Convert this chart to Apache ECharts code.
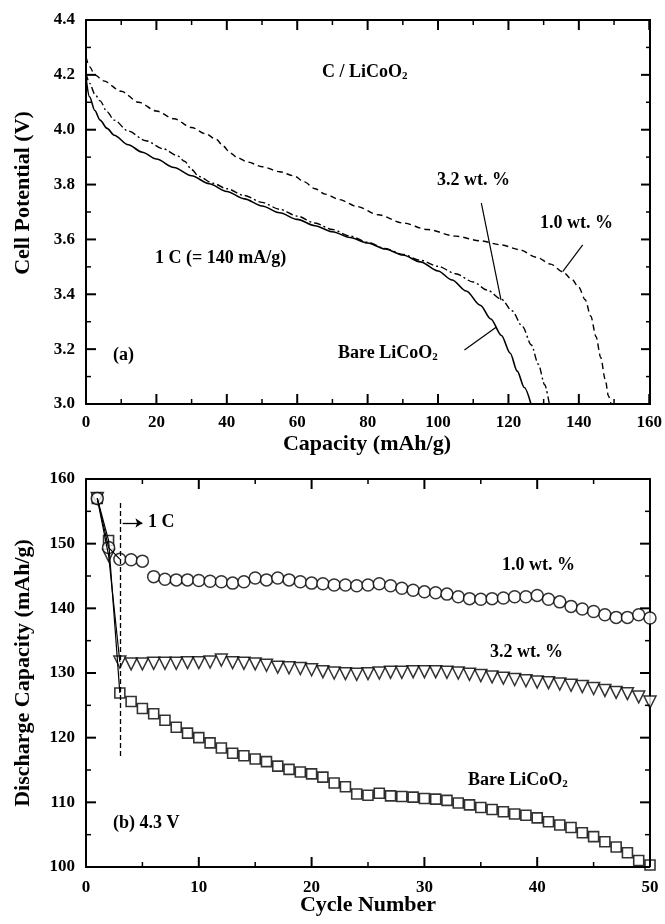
<!DOCTYPE html>
<html>
<head>
<meta charset="utf-8">
<script src="https://cdn.jsdelivr.net/npm/echarts@6/dist/echarts.min.js"></script>
<style>
  html, body { margin: 0; padding: 0; background: #fff; }
  #chart { width: 665px; height: 924px; }
</style>
</head>
<body>
<div id="chart"></div>
<script>
// (a) discharge curves, capacity (mAh/g) vs potential (V)
const bareCap = [0, 1, 2.5, 4, 6, 8, 12, 16, 20, 25, 30, 35, 40, 45, 50, 55, 60, 65, 70, 75, 80, 85, 90, 95, 100, 104, 108, 112, 115, 118, 120.5, 122.5, 124.5, 126.4]
const barePot = [4.19, 4.12, 4.07, 4.035, 4.005, 3.98, 3.945, 3.918, 3.893, 3.862, 3.832, 3.803, 3.775, 3.748, 3.722, 3.697, 3.673, 3.65, 3.628, 3.607, 3.587, 3.565, 3.543, 3.518, 3.485, 3.452, 3.412, 3.36, 3.31, 3.25, 3.185, 3.12, 3.06, 3.0]

const w32Cap = [0, 1, 2.5, 4, 6, 8, 12, 17, 22, 26, 28, 30, 32, 36, 40, 45, 50, 55, 60, 65, 70, 75, 80, 85, 90, 95, 100, 105, 110, 114, 118, 121, 124, 126.5, 128.5, 130.3, 131.6]
const w32Pot = [4.205, 4.17, 4.13, 4.105, 4.065, 4.035, 3.995, 3.96, 3.93, 3.905, 3.885, 3.855, 3.83, 3.805, 3.785, 3.76, 3.735, 3.71, 3.685, 3.66, 3.636, 3.612, 3.59, 3.567, 3.545, 3.524, 3.502, 3.475, 3.445, 3.415, 3.382, 3.34, 3.282, 3.215, 3.145, 3.07, 3.0]

const w10Cap = [0, 1, 2.5, 5, 10, 15, 20, 25, 30, 34, 37, 39, 41, 43, 46, 50, 55, 59, 62, 65, 68, 72, 77, 83, 90, 97, 105, 112, 118, 123, 128, 132, 135.4, 138, 140, 141.8, 143.4, 144.9, 146.2, 147.5, 148.4, 149.1]
const w10Pot = [4.265, 4.23, 4.2, 4.178, 4.14, 4.1, 4.068, 4.04, 4.008, 3.985, 3.965, 3.94, 3.915, 3.898, 3.882, 3.865, 3.847, 3.832, 3.81, 3.785, 3.765, 3.745, 3.72, 3.69, 3.66, 3.636, 3.612, 3.595, 3.58, 3.563, 3.535, 3.51, 3.482, 3.455, 3.425, 3.38, 3.32, 3.245, 3.17, 3.09, 3.03, 3.0]

// (b) cycling at 4.3 V
const cycles = [1, 2, 3, 4, 5, 6, 7, 8, 9, 10, 11, 12, 13, 14, 15, 16, 17, 18, 19, 20, 21, 22, 23, 24, 25,
  26, 27, 28, 29, 30, 31, 32, 33, 34, 35, 36, 37, 38, 39, 40, 41, 42, 43, 44, 45, 46, 47, 48, 49, 50]
const cap10 = [157.0, 149.4, 147.6, 147.5, 147.3, 144.9, 144.5, 144.4, 144.4, 144.3, 144.2, 144.1, 143.9, 144.1, 144.7,
  144.4, 144.7, 144.4, 144.1, 143.9, 143.8, 143.6, 143.6, 143.5, 143.6, 143.8, 143.5, 143.1, 142.8, 142.55,
  142.4, 142.2, 141.8, 141.5, 141.4, 141.5, 141.6, 141.8, 141.8, 142.0, 141.4, 141.0, 140.3, 139.9, 139.5,
  139.0, 138.6, 138.6, 139.0, 138.5]
const cap32 = [157.0, 148.2, 131.7, 131.4, 131.4, 131.5, 131.5, 131.5, 131.6, 131.6, 131.7, 132.0, 131.6, 131.5, 131.4,
  131.2, 130.9, 130.8, 130.7, 130.5, 130.2, 130.0, 129.9, 129.8, 129.9, 130.0, 130.1, 130.1, 130.2, 130.2,
  130.2, 130.1, 130.0, 129.8, 129.6, 129.4, 129.2, 129.0, 128.8, 128.6, 128.5, 128.3, 128.1, 127.9, 127.6,
  127.3, 127.0, 126.8, 126.3, 125.5]
const capBare = [157.0, 150.5, 126.9, 125.6, 124.5, 123.7, 122.7, 121.6, 120.7, 120.0, 119.2, 118.4, 117.6, 117.2, 116.7,
  116.3, 115.6, 115.1, 114.7, 114.4, 113.9, 113.0, 112.4, 111.3, 111.1, 111.4, 111.0, 110.9, 110.8, 110.6,
  110.5, 110.3, 109.9, 109.6, 109.2, 108.9, 108.55, 108.2, 108.0, 107.6, 107.0, 106.5, 106.1, 105.3, 104.7,
  103.9, 103.1, 102.2, 101.0, 100.3]

// axis ranges: [min, max, major step]
const capRange = [0, 160, 20]
const potRange = [3.0, 4.4, 0.2]
const cycRange = [0, 50, 10]
const dcapRange = [100, 160, 10]

const FONT = '"Liberation Serif", "Times New Roman", serif'
const GRID_A = { left: 86, top: 20, width: 565, height: 384 }
const GRID_B = { left: 86, top: 479, width: 564, height: 388 }

const pairs = (xs, ys) => xs.map((x, i) => [x, ys[i]])

// native inward ticks don't paint here, the frame ticks are added afterwards from the axis scales
const axisBase = (extra) => Object.assign({
  type: 'value',
  axisLine: { show: true, onZero: false, lineStyle: { color: '#000', width: 2 } },
  axisTick: { show: false },
  splitLine: { show: false },
  axisLabel: { show: false }
}, extra)

const range = (r) => ({ min: r[0], max: r[1], interval: r[2] })

const tickLabel = (margin, fmt) => ({
  show: true, margin: margin, color: '#000', fontFamily: FONT, fontWeight: 'bold', fontSize: 17, formatter: fmt
})

const rich = {
  s: { fontFamily: FONT, fontWeight: 'bold', fontSize: 11, verticalAlign: 'bottom', padding: [8, 0, 0, 0] }
}
const note = (x, y, text) => ({
  type: 'text', x: x, y: y,
  style: { text: text, fill: '#000', font: 'bold 18px ' + FONT, verticalAlign: 'middle', rich: rich }
})
const title = (x, y, text, vertical) => ({
  type: 'text', x: x, y: y, rotation: vertical ? Math.PI / 2 : 0,
  style: { text: text, fill: '#000', font: 'bold 22px ' + FONT, align: 'center', verticalAlign: 'middle' }
})

const lineOpts = { color: '#000', width: 1.2, type: 'solid' }

const notes = [
  title(367, 444, 'Capacity (mAh/g)'),
  title(23, 193, 'Cell Potential (V)', true),
  title(368, 905, 'Cycle Number'),
  title(23, 673, 'Discharge Capacity (mAh/g)', true),
  note(322, 72, 'C / LiCoO{s|2}'),
  note(437, 180, '3.2 wt. %'),
  note(540, 223, '1.0 wt. %'),
  note(155, 258, '1 C (= 140 mA/g)'),
  note(113, 355, '(a)'),
  note(338, 353, 'Bare LiCoO{s|2}'),
  note(148, 522, '1 C'),
  note(502, 565, '1.0 wt. %'),
  note(490, 652, '3.2 wt. %'),
  note(468, 780, 'Bare LiCoO{s|2}'),
  note(113, 823, '(b) 4.3 V')
]

const chart = echarts.init(document.getElementById('chart'))
chart.setOption({
  animation: false,
  backgroundColor: '#fff',
  grid: [GRID_A, GRID_B],
  xAxis: [
    axisBase(Object.assign({ gridIndex: 0, position: 'bottom', axisLabel: tickLabel(10, v => v) }, range(capRange))),
    axisBase(Object.assign({ gridIndex: 0, position: 'top' }, range(capRange))),
    axisBase(Object.assign({ gridIndex: 1, position: 'bottom', axisLabel: tickLabel(12, v => v) }, range(cycRange))),
    axisBase(Object.assign({ gridIndex: 1, position: 'top' }, range(cycRange)))
  ],
  yAxis: [
    axisBase(Object.assign({ gridIndex: 0, position: 'left', axisLabel: tickLabel(11, v => v.toFixed(1)) }, range(potRange))),
    axisBase(Object.assign({ gridIndex: 0, position: 'right' }, range(potRange))),
    axisBase(Object.assign({ gridIndex: 1, position: 'left', axisLabel: tickLabel(11, v => v) }, range(dcapRange))),
    axisBase(Object.assign({ gridIndex: 1, position: 'right' }, range(dcapRange)))
  ],
  series: [
    {
      name: 'Bare LiCoO2', type: 'line', xAxisIndex: 0, yAxisIndex: 0,
      data: pairs(bareCap, barePot), showSymbol: false, smooth: 0.3, smoothMonotone: 'x',
      lineStyle: { color: '#000', width: 1.6 },
      markLine: {
        silent: true, symbol: 'none', label: { show: false }, lineStyle: lineOpts,
        data: [
          [{ coord: [112.3, 3.732] }, { coord: [117.9, 3.379] }],
          [{ coord: [141.1, 3.58] }, { coord: [135.4, 3.483] }],
          [{ coord: [107.5, 3.197] }, { coord: [116.5, 3.28] }]
        ]
      }
    },
    {
      name: '3.2 wt. %', type: 'line', xAxisIndex: 0, yAxisIndex: 0,
      data: pairs(w32Cap, w32Pot), showSymbol: false, smooth: 0.3, smoothMonotone: 'x',
      lineStyle: { color: '#000', width: 1.4, type: [7, 3, 2, 3] }
    },
    {
      name: '1.0 wt. %', type: 'line', xAxisIndex: 0, yAxisIndex: 0,
      data: pairs(w10Cap, w10Pot), showSymbol: false, smooth: 0.3, smoothMonotone: 'x',
      lineStyle: { color: '#000', width: 1.4, type: [6, 4] }
    },
    // (b) connecting lines for the first three cycles
    {
      type: 'line', xAxisIndex: 2, yAxisIndex: 2, showSymbol: false,
      data: pairs(cycles, capBare).slice(0, 3), lineStyle: lineOpts,
      markLine: {
        silent: true, label: { show: false },
        data: [
          [{ coord: [3, 156.3], symbol: 'none', lineStyle: { color: '#000', width: 1.3, type: [5, 3] } },
           { coord: [3, 116.8], symbol: 'none' }],
          [{ coord: [3.25, 153.2], symbol: 'none', lineStyle: { color: '#000', width: 1.3, type: 'solid' } },
           { coord: [5.0, 153.2], symbol: 'arrow', symbolSize: 7 }]
        ]
      }
    },
    { type: 'line', xAxisIndex: 2, yAxisIndex: 2, showSymbol: false,
      data: pairs(cycles, cap32).slice(0, 3), lineStyle: lineOpts },
    { type: 'line', xAxisIndex: 2, yAxisIndex: 2, showSymbol: false,
      data: pairs(cycles, cap10).slice(0, 3), lineStyle: lineOpts },
    {
      name: 'Bare LiCoO2', type: 'scatter', xAxisIndex: 2, yAxisIndex: 2,
      data: pairs(cycles, capBare), symbol: 'rect', symbolSize: 10,
      itemStyle: { color: '#fff', borderColor: '#000', borderWidth: 1.6 }
    },
    {
      name: '3.2 wt. %', type: 'scatter', xAxisIndex: 2, yAxisIndex: 2,
      data: pairs(cycles, cap32), symbol: 'triangle', symbolRotate: 180, symbolSize: 12,
      itemStyle: { color: '#fff', borderColor: '#000', borderWidth: 1.5 }
    },
    {
      name: '1.0 wt. %', type: 'scatter', xAxisIndex: 2, yAxisIndex: 2,
      data: pairs(cycles, cap10), symbol: 'circle', symbolSize: 12,
      itemStyle: { color: '#fff', borderColor: '#000', borderWidth: 1.5 }
    }
  ],
  graphic: notes
})

// inward ticks on all four sides: majors 10px, minors 5px
function tickMarks(gridIndex, g, xr, yr) {
  const out = []
  const seg = (x1, y1, x2, y2, w) => out.push({
    type: 'line', silent: true, z: 100,
    shape: { x1: x1, y1: y1, x2: x2, y2: y2 }, style: { stroke: '#000', lineWidth: w }
  })
  const bottom = g.top + g.height
  const right = g.left + g.width
  const nx = Math.round((xr[1] - xr[0]) / (xr[2] / 2))
  for (let i = 0; i <= nx; i++) {
    const x = chart.convertToPixel({ xAxisIndex: gridIndex * 2, yAxisIndex: gridIndex * 2 }, [xr[0] + i * xr[2] / 2, yr[0]])[0]
    const len = i % 2 === 0 ? 10 : 5
    const w = i % 2 === 0 ? 2 : 1.5
    seg(x, bottom, x, bottom - len, w)
    seg(x, g.top, x, g.top + len, w)
  }
  const ny = Math.round((yr[1] - yr[0]) / (yr[2] / 2))
  for (let i = 0; i <= ny; i++) {
    const y = chart.convertToPixel({ xAxisIndex: gridIndex * 2, yAxisIndex: gridIndex * 2 }, [xr[0], yr[0] + i * yr[2] / 2])[1]
    const len = i % 2 === 0 ? 10 : 5
    const w = i % 2 === 0 ? 2 : 1.5
    seg(g.left, y, g.left + len, y, w)
    seg(right, y, right - len, y, w)
  }
  return out
}

try {
  chart.setOption({
    graphic: notes.concat(tickMarks(0, GRID_A, capRange, potRange), tickMarks(1, GRID_B, cycRange, dcapRange))
  })
} catch (e) {
  console.error(e)
}
</script>
</body>
</html>
